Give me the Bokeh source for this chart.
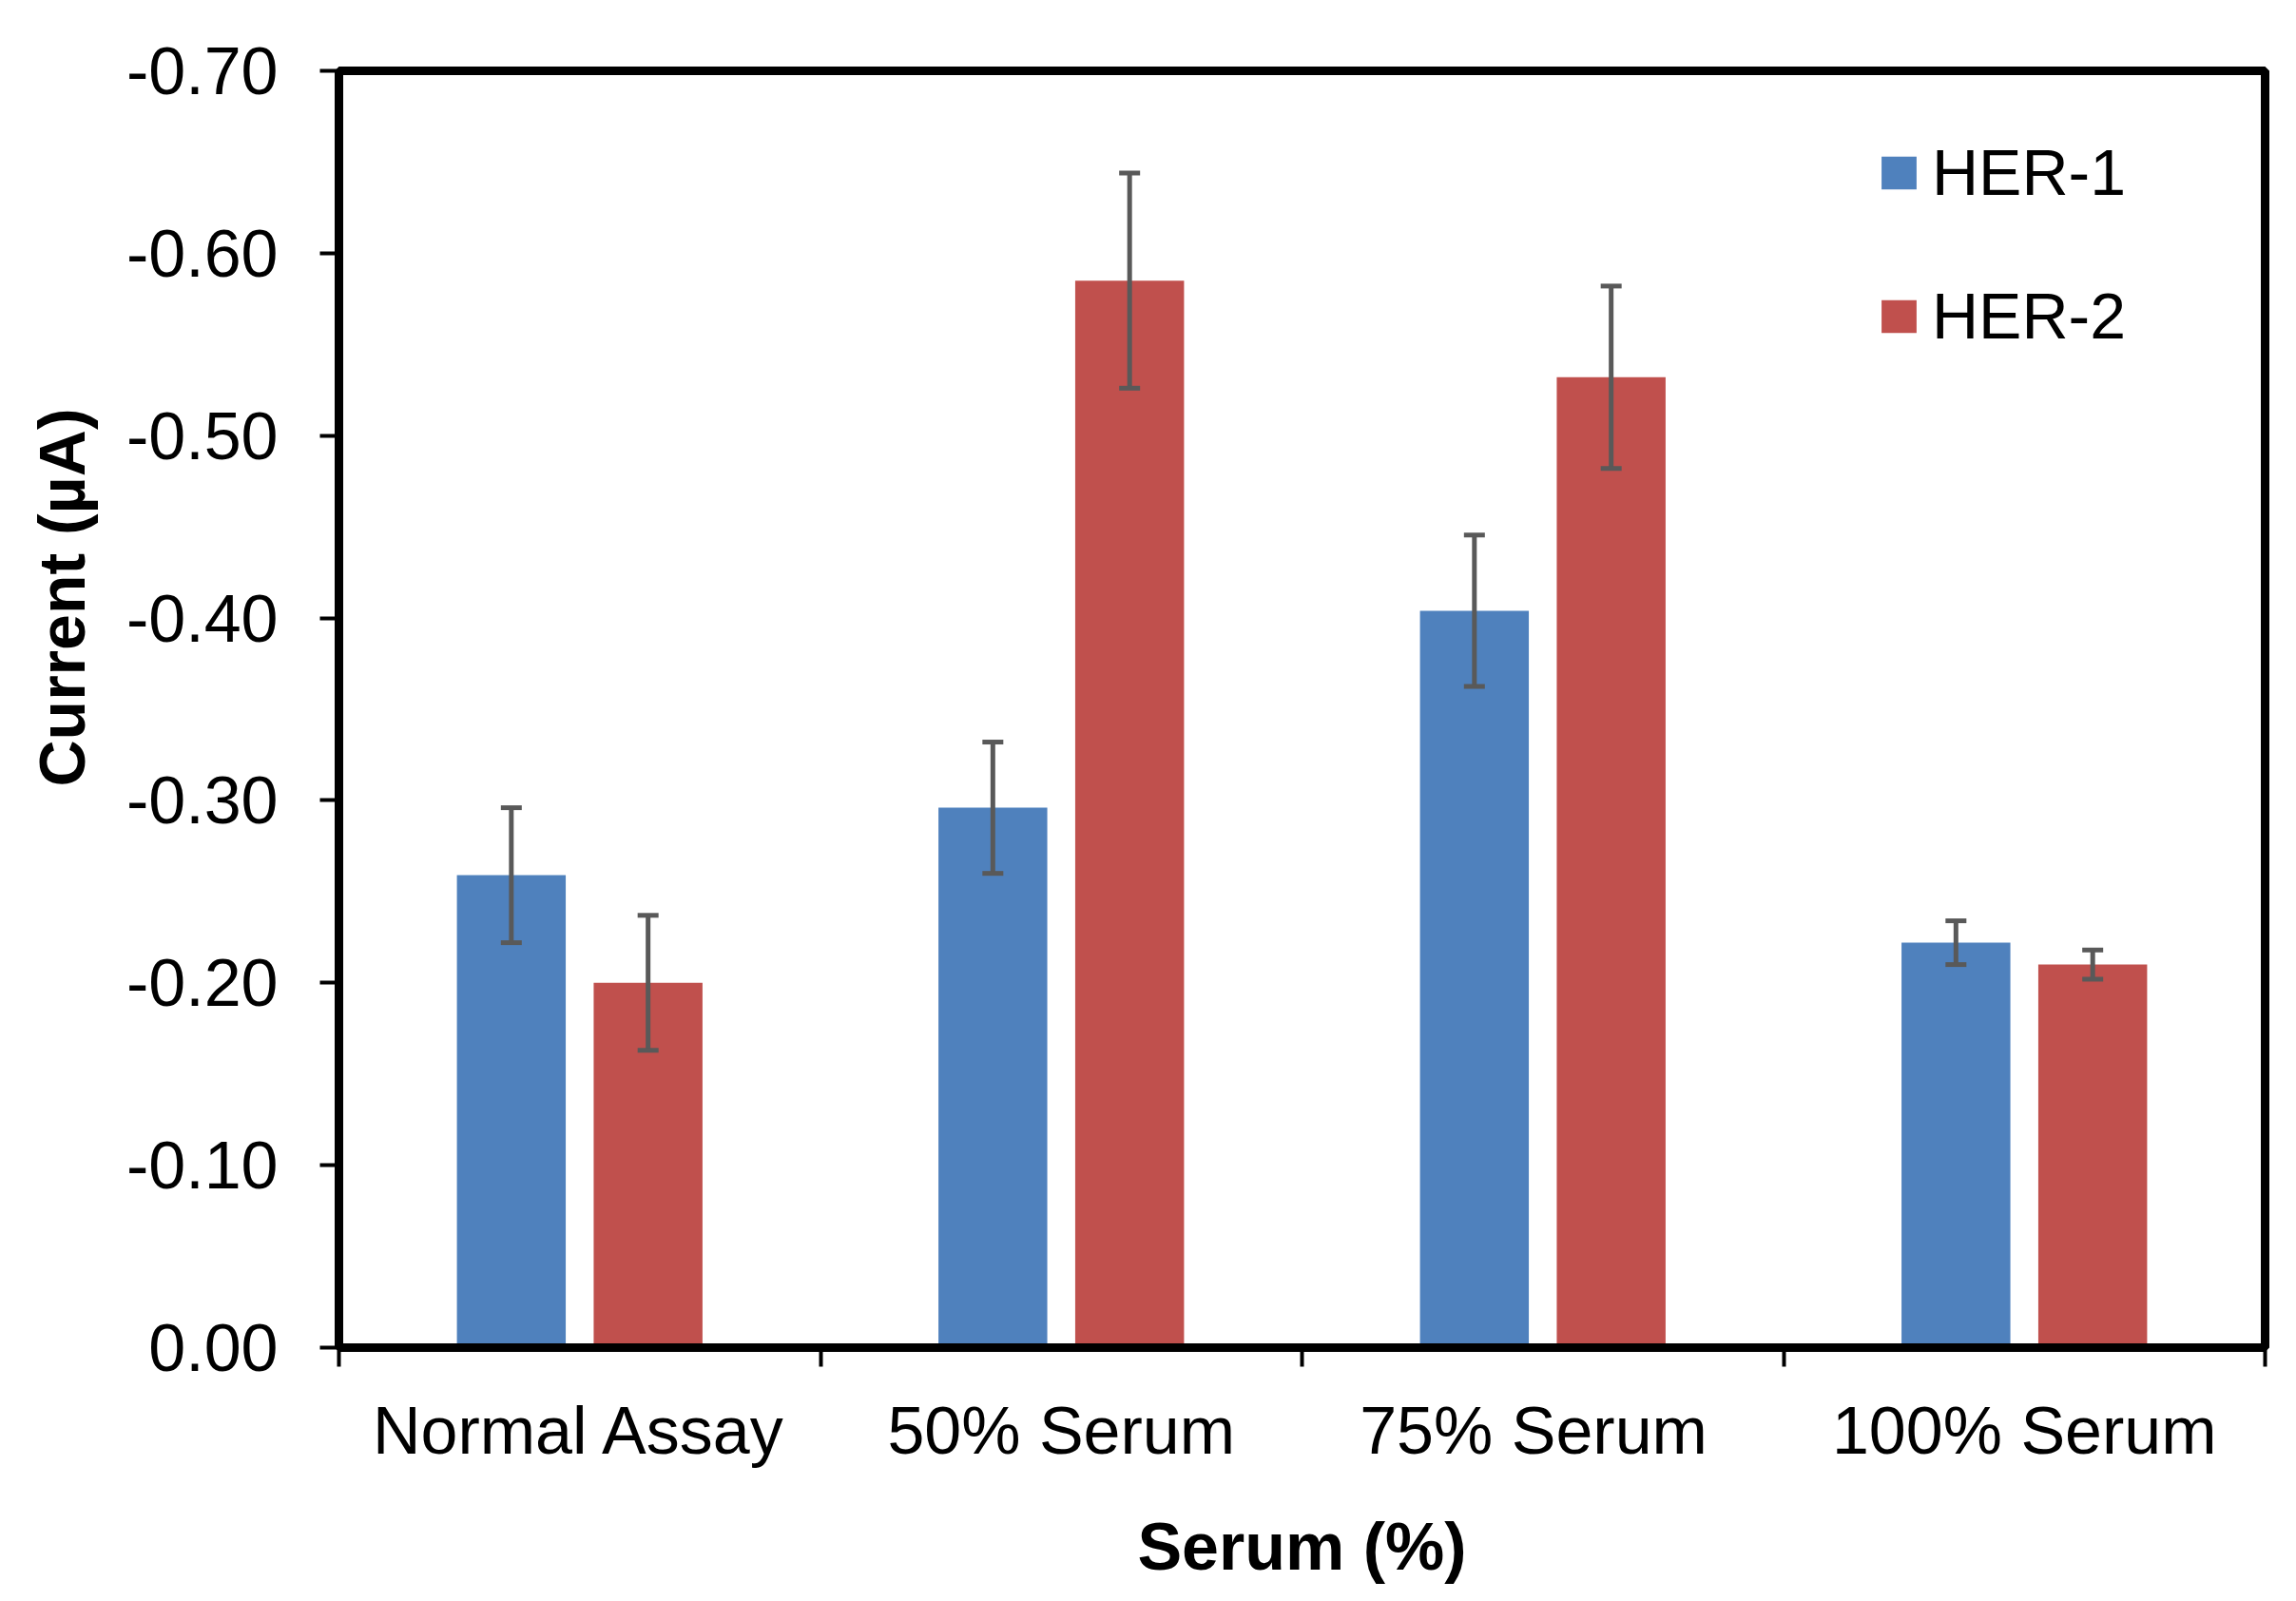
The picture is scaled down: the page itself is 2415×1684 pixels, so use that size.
import numpy as np
from bokeh.plotting import figure
from bokeh.models import (ColumnDataSource, Range1d, FixedTicker, PrintfTickFormatter,
                          Whisker, Title, TeeHead)
from bokeh.transform import dodge
from bokeh.embed import file_html
from bokeh.resources import INLINE

# ---- data ----
categories = ["Normal Assay", "50% Serum", "75%  Serum", "100% Serum"]
her1 = [-0.259, -0.296, -0.404, -0.222]
her1_err = [0.037, 0.036, 0.0415, 0.012]
her2 = [-0.200, -0.585, -0.532, -0.210]
her2_err = [0.037, 0.059, 0.050, 0.008]
y_ticks = [0.0, -0.1, -0.2, -0.3, -0.4, -0.5, -0.6, -0.7]

BLUE = "#4F81BD"
RED = "#C0504D"
ERR = "#595959"
FONT = "Liberation Sans"

centers = np.arange(len(categories)) + 0.5
h1 = np.array(her1)
h2 = np.array(her2)
e1 = np.array(her1_err)
e2 = np.array(her2_err)
src = ColumnDataSource(dict(
    x=centers, h1=h1, h2=h2,
    h1_up=h1 - e1, h1_lo=h1 + e1,
    h2_up=h2 - e2, h2_lo=h2 + e2,
))

p = figure(width=2400, height=1668,
           x_range=Range1d(0, len(categories)), y_range=Range1d(0, -0.7),
           output_backend="svg", toolbar_location=None,
           min_border_left=356, min_border_right=18,
           min_border_top=74, min_border_bottom=243)
p.background_fill_color = "white"
p.border_fill_color = "white"
p.xgrid.visible = False
p.ygrid.visible = False
p.outline_line_color = "black"
p.outline_line_width = 9

OFF = 0.142
W = 0.226
p.vbar(x=dodge("x", -OFF, range=p.x_range), top="h1", bottom=0, width=W,
       source=src, fill_color=BLUE, line_color=None, legend_label="HER-1")
p.vbar(x=dodge("x", OFF, range=p.x_range), top="h2", bottom=0, width=W,
       source=src, fill_color=RED, line_color=None, legend_label="HER-2")

for off, up, lo in [(-OFF, "h1_up", "h1_lo"), (OFF, "h2_up", "h2_lo")]:
    w = Whisker(base=dodge("x", off, range=p.x_range), upper=up, lower=lo,
                source=src, dimension="height", line_color=ERR, line_width=5,
                level="overlay",
                upper_head=TeeHead(size=22, line_color=ERR, line_width=5),
                lower_head=TeeHead(size=22, line_color=ERR, line_width=5))
    p.add_layout(w)

# x axis: labels at centres, ticks at boundaries
xa = p.xaxis[0]
xa.ticker = FixedTicker(ticks=list(centers), minor_ticks=list(range(len(categories) + 1)))
xa.major_label_overrides = {float(c): name for c, name in zip(centers, categories)}
xa.major_tick_out = 0
xa.major_tick_in = 0
xa.major_tick_line_color = None
xa.minor_tick_out = 20
xa.minor_tick_in = 0
xa.minor_tick_line_width = 4
xa.minor_tick_line_color = "black"
xa.axis_line_color = "black"
xa.axis_line_width = 9
xa.major_label_text_font = FONT
xa.major_label_text_font_size = "70px"
xa.major_label_text_color = "black"
xa.major_label_standoff = 28
xa.axis_label = "Serum (%)"
xa.axis_label_text_font = FONT
xa.axis_label_text_font_size = "70px"
xa.axis_label_text_font_style = "bold"
xa.axis_label_text_color = "black"
xa.axis_label_standoff = 41

ya = p.yaxis[0]
ya.ticker = FixedTicker(ticks=y_ticks, minor_ticks=[])
ya.formatter = PrintfTickFormatter(format="%.2f")
ya.major_tick_out = 20
ya.major_tick_in = 0
ya.major_tick_line_width = 4
ya.major_tick_line_color = "black"
ya.minor_tick_line_color = None
ya.axis_line_color = "black"
ya.axis_line_width = 9
ya.major_label_text_font = FONT
ya.major_label_text_font_size = "70px"
ya.major_label_text_color = "black"
ya.major_label_standoff = 44

ytitle = Title(text="Current (µA)", align="left", offset=590,
               vertical_align="top", standoff=50,
               text_font=FONT, text_font_size="68px", text_font_style="bold",
               text_color="black")
p.add_layout(ytitle, "left")

lg = p.legend[0]
lg.location = (1618, 1046)
lg.padding = 0
lg.margin = 0
lg.spacing = 73
lg.glyph_width = 46
lg.glyph_height = 43
lg.label_standoff = 12
lg.border_line_color = None
lg.background_fill_alpha = 0
lg.label_text_font = FONT
lg.label_text_font_size = "68px"
lg.label_text_color = "black"

open("out.html", "w").write(file_html(p, INLINE))
